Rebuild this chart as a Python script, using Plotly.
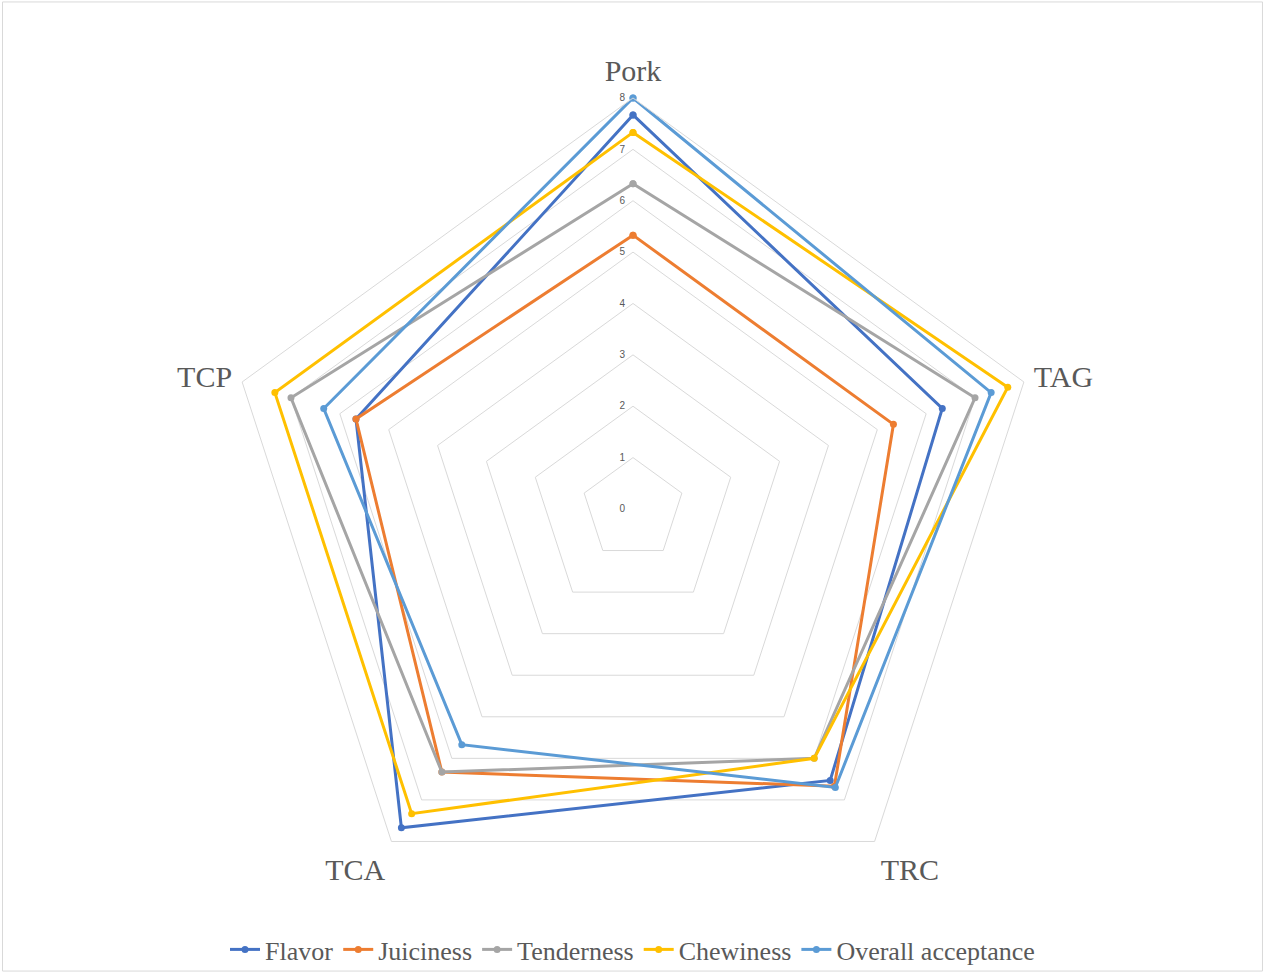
import plotly.graph_objects as go

categories = ["Pork", "TAG", "TRC", "TCA", "TCP"]
flavor = [7.67, 6.33, 6.53, 7.67, 5.67]
juiciness = [5.33, 5.33, 6.67, 6.33, 5.67]
tenderness = [6.33, 7.0, 6.0, 6.33, 7.0]
chewiness = [7.33, 7.67, 6.0, 7.33, 7.33]
overall = [8.0, 7.33, 6.7, 5.67, 6.33]
radial_ticks = [0, 1, 2, 3, 4, 5, 6, 7, 8]

series = [
    ("Flavor", flavor, "#4472C4"),
    ("Juiciness", juiciness, "#ED7D31"),
    ("Tenderness", tenderness, "#A5A5A5"),
    ("Chewiness", chewiness, "#FFC000"),
    ("Overall acceptance", overall, "#5B9BD5"),
]

fig = go.Figure()
for name, vals, color in series:
    fig.add_trace(go.Scatterpolar(
        r=vals + vals[:1],
        theta=categories + categories[:1],
        mode="lines+markers",
        name=name,
        line=dict(color=color, width=3),
        marker=dict(color=color, size=7),
    ))

fig.update_layout(
    width=1265, height=973,
    margin=dict(l=0, r=0, t=0, b=0),
    paper_bgcolor="white",
    font=dict(family="Liberation Serif", color="#595959"),
    polar=dict(
        domain=dict(x=[0.1755, 0.8253], y=[0.0545, 0.8993]),
        bgcolor="white",
        gridshape="linear",
        angularaxis=dict(
            rotation=90, direction="clockwise",
            showgrid=False, showline=True, linecolor="#d9d9d9", linewidth=1,
            ticks="outside", ticklen=4, tickcolor="rgba(0,0,0,0)",
            tickfont=dict(size=30, family="Liberation Serif", color="#595959"),
        ),
        radialaxis=dict(
            range=[0, 8], tickvals=radial_ticks, angle=90, tickangle=90,
            side="counterclockwise",
            showline=False, ticks="outside", ticklen=4, tickcolor="rgba(0,0,0,0)",
            gridcolor="#d9d9d9", gridwidth=1,
            tickfont=dict(size=10, family="Liberation Sans", color="#595959"),
        ),
    ),
    legend=dict(
        orientation="h", x=0.5, xanchor="center", y=0.024, yanchor="middle",
        font=dict(size=26, family="Liberation Serif", color="#595959"),
        itemwidth=30, bgcolor="rgba(0,0,0,0)",
    ),
    shapes=[dict(type="rect", xref="paper", yref="paper", x0=0.002, y0=0.002, x1=0.998, y1=0.998,
                 line=dict(color="#d9d9d9", width=1))],
)

fig.write_html("out.html", config={"displayModeBar": False},
               post_script="document.body.style.margin='0';")
